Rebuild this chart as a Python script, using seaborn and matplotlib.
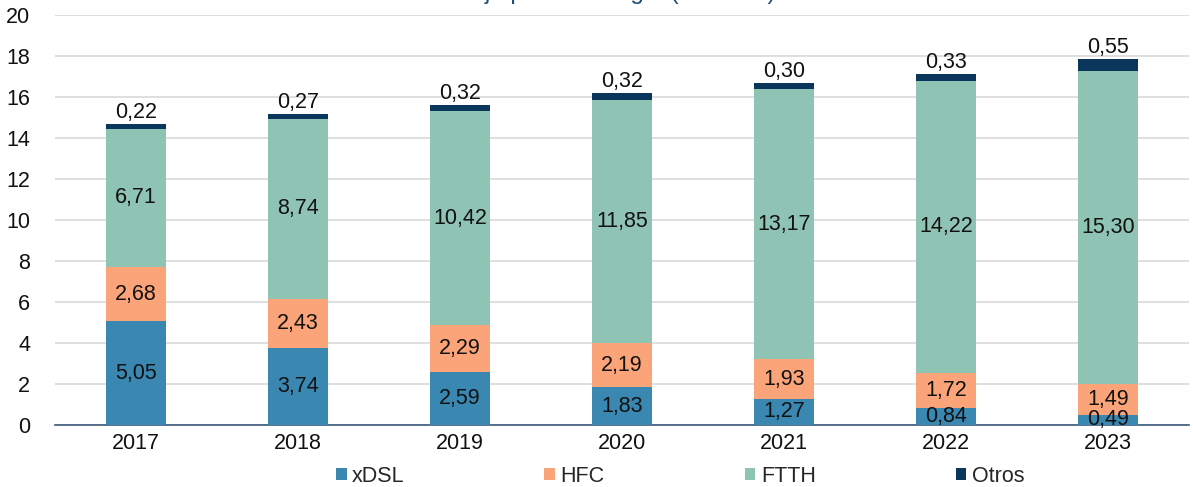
import matplotlib
matplotlib.use("Agg")
import matplotlib.pyplot as plt
from matplotlib.patches import Patch
import seaborn as sns
import numpy as np
import pandas as pd

years = ["2017", "2018", "2019", "2020", "2021", "2022", "2023"]
xdsl = [5.05, 3.74, 2.59, 1.83, 1.27, 0.84, 0.49]
hfc = [2.68, 2.43, 2.29, 2.19, 1.93, 1.72, 1.49]
ftth = [6.71, 8.74, 10.42, 11.85, 13.17, 14.22, 15.30]
otros = [0.22, 0.27, 0.32, 0.32, 0.30, 0.33, 0.55]

series_names = ["xDSL", "HFC", "FTTH", "Otros"]
series_vals = [xdsl, hfc, ftth, otros]
colors = ["#3A88B1", "#FBA47A", "#8FC3B4", "#0B365B"]

sns.set_theme(style="white")
plt.rcParams['font.family'] = ['Liberation Sans', 'DejaVu Sans']
FS = 15.5

fig = plt.figure(figsize=(11.93, 4.87), dpi=100)
ax = fig.add_axes([55/1193, 62/487, 1134/1193, 410/487])

arr = np.array(series_vals)
cum = np.cumsum(arr, axis=0)

# draw cumulative bars from top-most down so lower ones overlay
for i in range(len(series_names) - 1, -1, -1):
    df = pd.DataFrame({"year": years, "val": cum[i]})
    sns.barplot(data=df, x="year", y="val", color=colors[i], width=0.37,
                saturation=1, ax=ax, zorder=3, linewidth=0)

# labels
for j in range(len(years)):
    for i in range(3):
        bottom = cum[i][j] - arr[i][j]
        ax.text(j, bottom + arr[i][j] / 2, f"{arr[i][j]:.2f}".replace(".", ","),
                ha="center", va="center", fontsize=FS, color="#111111", zorder=5)
    ax.text(j, cum[3][j] + 0.05, f"{arr[3][j]:.2f}".replace(".", ","),
            ha="center", va="bottom", fontsize=FS, color="#111111", zorder=5)

ax.set_ylim(0, 20)
ax.set_xlim(-0.5, len(years) - 0.5)
ax.set_yticks(np.arange(0, 21, 2))
ax.yaxis.grid(True, color="#D9D9D9", linewidth=1.2, zorder=0)
ax.set_axisbelow(True)
ax.set_xlabel("")
ax.set_ylabel("")
for s in ["left", "right", "top"]:
    ax.spines[s].set_visible(False)
ax.spines["bottom"].set_color("#3B5878")
ax.spines["bottom"].set_linewidth(1.2)
ax.tick_params(axis="y", labelsize=FS, length=0, pad=18, labelcolor="#111111")
ax.tick_params(axis="x", which="major", labelsize=FS, length=0, pad=6, labelcolor="#111111")
ax.set_xticks(np.arange(-0.5, len(years), 1), minor=True)
ax.tick_params(axis="x", which="minor", length=6, width=1.2, color="#3B5878", direction="out")

handles = [Patch(facecolor=c, edgecolor="none") for c in colors]
fig.legend(handles, series_names, loc="center", bbox_to_anchor=(680/1193, 11/487),
           ncol=4, frameon=False, fontsize=FS, handlelength=0.5, handleheight=0.5,
           handletextpad=0.25, columnspacing=6.5, borderaxespad=0)

# title: in the reference it sits above the visible area, only descenders show
fig.text(485/1193, 1 + 1/487, "Accesos de banda ancha fija por tecnología (millones)",
         ha="center", va="baseline", fontsize=17.5, color="#1F4E79")

fig.savefig("out.png", dpi=100)
